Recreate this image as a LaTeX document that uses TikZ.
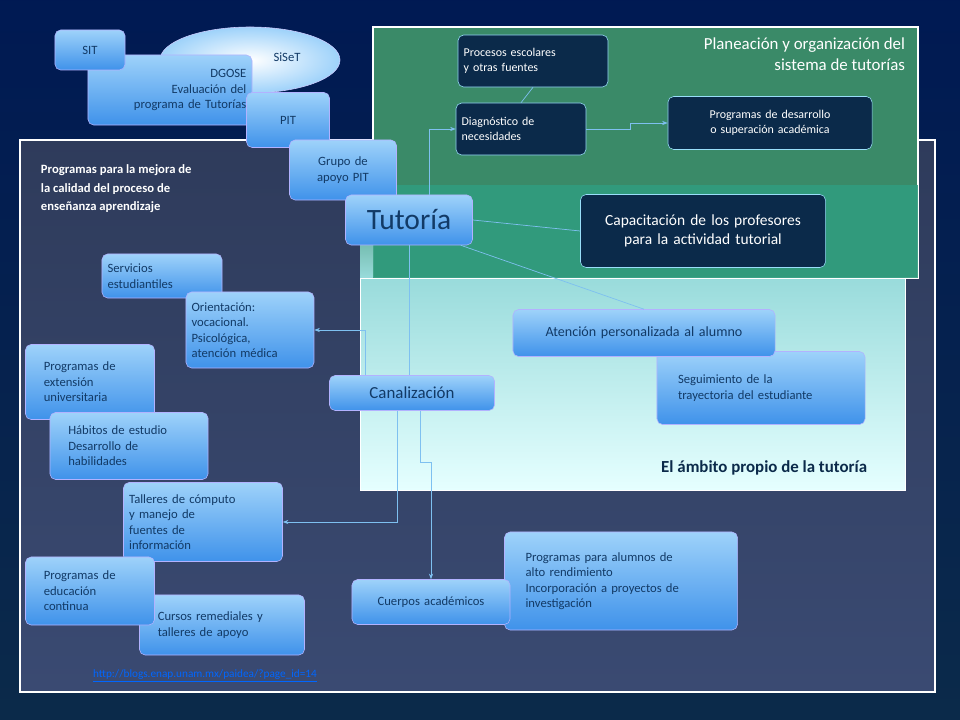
\documentclass[tikz,border=0pt]{standalone}
\usepackage{fontspec}
\setmainfont{Carlito}
\usetikzlibrary{arrows.meta}
\definecolor{navy}{HTML}{0B2A4A}
\definecolor{boxtext}{HTML}{123A66}
\definecolor{linkblue}{HTML}{7EC0F0}
\definecolor{panelgreen}{HTML}{3A8A68}
\definecolor{panelblue}{HTML}{3A4A72}
\definecolor{boxtop}{HTML}{9ED2FA}
\definecolor{boxbottom}{HTML}{3F92EA}
\tikzset{
  sz/.style 2 args={text width=\dimexpr0.7113pt*#1-8pt\relax, minimum height=\dimexpr0.7113pt*#2\relax},
  lightbox/.style={draw=white!70!blue, rounded corners=4pt, top color=boxtop, bottom color=boxbottom, text=boxtext, font=\fontsize{9}{11}\selectfont, align=left, inner sep=4pt},
  darkbox/.style={draw=cyan!40, rounded corners=4pt, fill=navy, text=white, font=\fontsize{8.5}{11}\selectfont, align=left, inner sep=4pt},
  conn/.style={draw=linkblue, line width=0.5pt},
  arr/.style={conn, -{Stealth[length=4pt]}}
}
\begin{document}
\begin{tikzpicture}[x=0.025cm, y=-0.025cm]
\useasboundingbox (0,0) rectangle (960,720);
\shade [top color=black!75!blue!90!cyan, bottom color=navy] (0,0) rectangle (960,720);
% panels
\shade [top color=panelblue!80!black, bottom color=panelblue, draw=white!60, line width=1pt] (20,140) rectangle (935,692);
\fill [panelgreen, draw=white!60, line width=1pt] (373,27) rectangle (918,278);
\shade [top color=cyan!30!teal!40, bottom color=cyan!10, draw=white!70] (360,278) rectangle (905,490);
\shade [top color=panelgreen, bottom color=cyan!30!teal!40] (360,185) rectangle (373,278);
\fill [panelgreen!85!cyan, opacity=0.9] (373,185) rectangle (918,278);
\node [text=white, align=right, anchor=north east, font=\fontsize{12}{15}\selectfont] (plan) at (910,33) {Planeación y organización del\\sistema de tutorías};
\node [text=navy, anchor=east, font=\bfseries\fontsize{12}{14}\selectfont] (ambito) at (872,468) {El ámbito propio de la tutoría};
\node [text=white, anchor=north west, align=left, font=\bfseries\fontsize{9}{13}\selectfont] (mejora) at (36,160) {Programas para la mejora de\\la calidad del proceso de\\enseñanza aprendizaje};
% top left
\shade [inner color=white, outer color=boxtop, draw=white!80!blue] (250,60) ellipse (90 and 33);
\node [text=boxtext, font=\fontsize{9}{11}\selectfont] (siset) at (287,57) {SiSeT};
\node [lightbox, sz={164}{70}, align=right] (dgose) at (170,90) {DGOSE\\Evaluación del\\programa de Tutorías};
\node [lightbox, sz={70}{40}, align=center] (sit) at (90,50) {SIT};
\node [lightbox, sz={83}{55}, align=center] (pit) at (288,120) {PIT};
\node [lightbox, sz={107}{60}, align=center] (grupo) at (343,170) {Grupo de\\apoyo PIT};
% green panel
\node [darkbox, sz={150}{52}] (procesos) at (533,61) {Procesos escolares\\y otras fuentes};
\node [darkbox, sz={130}{52}] (diag) at (521,129) {Diagnóstico de\\necesidades};
\node [darkbox, sz={204}{53}, align=center] (prog) at (770,123) {Programas de desarrollo\\o superación académica};
\node [darkbox, sz={245}{73}, align=center, font=\fontsize{11}{14}\selectfont] (capac) at (703,231) {Capacitación de los profesores\\para la actividad tutorial};
\node [lightbox, sz={127}{50}, align=center, font=\fontsize{21}{24}\selectfont] (tutoria) at (409,220) {Tutoría};
% cyan panel
\node [lightbox, sz={208}{73}, text width=\dimexpr0.7113pt*208-30pt\relax, align=left, inner xsep=15pt] (seguim) at (761,388) {Seguimiento de la\\trayectoria del estudiante};
\node [lightbox, sz={262}{47}, align=center, font=\fontsize{10}{12}\selectfont] (atencion) at (644,333) {Atención personalizada al alumno};
\node [lightbox, sz={165}{35}, align=center, font=\fontsize{12}{14}\selectfont] (canal) at (412,393) {Canalización};
% left column
\node [lightbox, sz={120}{44}] (serv) at (162,276) {Servicios\\estudiantiles};
\node [lightbox, sz={128}{76}] (orient) at (250,330) {Orientación:\\vocacional.\\Psicológica,\\atención médica};
\node [lightbox, sz={129}{75}, text width=\dimexpr0.7113pt*129-26pt\relax, inner xsep=13pt] (ext) at (90,382) {Programas de\\extensión\\universitaria};
\node [lightbox, sz={158}{67}, text width=\dimexpr0.7113pt*158-26pt\relax, inner xsep=13pt] (habitos) at (129,446) {Hábitos de estudio\\Desarrollo de\\habilidades};
\node [lightbox, sz={159}{79}] (talleres) at (203,522) {Talleres de cómputo\\y manejo de\\fuentes de\\información};
\node [lightbox, sz={165}{60}, text width=\dimexpr0.7113pt*165-26pt\relax, inner xsep=13pt] (cursos) at (222,625) {Cursos remediales y\\talleres de apoyo};
\node [lightbox, sz={129}{68}, text width=\dimexpr0.7113pt*129-26pt\relax, inner xsep=13pt] (educ) at (90,591) {Programas de\\educación\\continua};
\node [lightbox, sz={233}{98}, text width=\dimexpr0.7113pt*233-30pt\relax, inner xsep=15pt] (alto) at (621,581) {Programas para alumnos de\\alto rendimiento\\Incorporación a proyectos de\\investigación};
\node [lightbox, sz={158}{45}, align=center] (cuerpos) at (431,602) {Cuerpos académicos};
\node [text=blue!60!cyan, font=\fontsize{8}{10}\selectfont] (url) at (205,676) {\underline{http://blogs.enap.unam.mx/paidea/?page\_id=14}};
% connectors
\draw [arr] (tutoria.north) ++(20,0) |- (diag.west);
\draw [conn] (diag.north) -- (procesos.south);
\draw [arr] (diag.east) -- ++(44,0) |- (prog.west);
\draw [conn] (tutoria.east) -- (capac.west);
\draw [conn] (tutoria.south east) ++(-12,0) -- (atencion.north);
\draw [conn] (tutoria.south) -- (canal.north -| tutoria.south);
\draw [arr] (canal.north) ++(-47,0) |- (orient.east);
\draw [arr] (canal.south) ++(-15,0) |- (talleres.east);
\draw [arr] (canal.south) ++(8,0) -- ++(0,52) -| (cuerpos.north);
\end{tikzpicture}
\end{document}
